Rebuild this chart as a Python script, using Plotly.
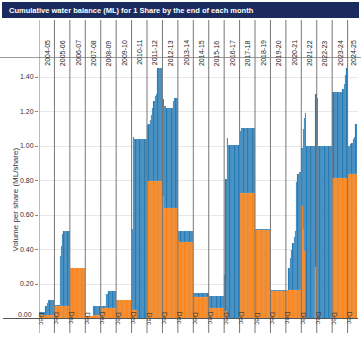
import plotly.graph_objects as go

W, H = 361, 340

years = ["2004-05", "2005-06", "2006-07", "2007-08", "2008-09", "2009-10", "2010-11",
         "2011-12", "2012-13", "2013-14", "2014-15", "2015-16", "2016-17", "2017-18",
         "2018-19", "2019-20", "2020-21", "2021-22", "2022-23", "2023-24", "2024-25"]

# Total balance per share (ML/share), month by month (Jul..Jun) for each water year
total_by_year = [
    [0.04, 0.04, 0.04, 0.04, 0.04, 0.07, 0.09, 0.11, 0.11, 0.11, 0.11, 0.11],
    [0.08, 0.08, 0.08, 0.08, 0.36, 0.42, 0.49, 0.51, 0.51, 0.51, 0.51, 0.51],
    [0.295] * 12,
    [0.015] * 6 + [0.07] * 6,
    [0.07] * 4 + [0.14] * 2 + [0.16] * 6,
    [0.11] * 12,
    [0.52, 1.05] + [1.04] * 10,
    [1.12, 1.13, 1.15, 1.18, 1.22, 1.26, 1.29, 1.30, 1.45, 1.45, 1.45, 1.45],
    [1.27, 1.23, 1.23, 1.22, 1.22, 1.22, 1.22, 1.22, 1.26, 1.28, 1.28, 1.28],
    [0.51] * 12,
    [0.145] * 12,
    [0.13] * 12,
    [0.25, 0.81, 1.045] + [1.005] * 9,
    [1.085] + [1.105] * 11,
    [0.517] * 12,
    [0.163] * 12,
    [0.163, 0.163, 0.29, 0.35, 0.40, 0.44, 0.47, 0.51, 0.79, 0.84, 0.85, 0.85],
    [0.99, 1.10, 1.16, 1.19] + [1.0] * 7 + [1.30],
    [1.28] + [1.0] * 11,
    [1.315] * 8 + [1.33, 1.36, 1.41, 1.45],
    [1.0, 1.0, 1.01, 1.02, 1.04, 1.05, 1.13],
]

# Carry-over part of the balance (ML/share)
carry_by_year = [
    [0.02] * 12,
    [0.07] * 12,
    [0.29] * 12,
    [0.015] * 6 + [0.02] * 6,
    [0.063] * 12,
    [0.108] * 12,
    [0.05] * 4 + [0.0] * 8,
    [0.80] * 12,
    [0.71] + [0.64] * 11,
    [0.455] + [0.445] * 11,
    [0.125] * 12,
    [0.06] * 12,
    [0.045, 0.045] + [0.0] * 10,
    [0.725] * 12,
    [0.515] * 12,
    [0.16] * 12,
    [0.163] * 12,
    [0.65, 0.52, 0.39] + [0.0] * 8 + [0.30],
    [0.0] * 12,
    [0.815] * 12,
    [0.84] * 7,
]

tick_text = "Dec"
y_ticks = [0.2, 0.4, 0.6, 0.8, 1.0, 1.2, 1.4]

month_idx, total, carry = [], [], []
for k, (t, c) in enumerate(zip(total_by_year, carry_by_year)):
    for j in range(len(t)):
        month_idx.append(12 * k + j)
        total.append(t[j])
        carry.append(c[j])

# pixel helpers for layout geometry
X0, X1 = 39.0, 358.0
Y0, Y1 = 318.5, 57.0
PX_PER_MONTH = 15.43 / 12
x_end = -0.5 + (X1 - X0) / PX_PER_MONTH
y_top = (Y0 - Y1) / 172.5


def px(v):
    return v / W


def py(v):
    return 1 - v / H


fig = go.Figure()
fig.add_trace(go.Bar(x=month_idx, y=total,
                     marker=dict(color="#1f77b4", line=dict(color="rgba(255,255,255,0.7)", width=0.15)),
                     name="Total", hoverinfo="skip"))
fig.add_trace(go.Bar(x=month_idx, y=carry,
                     marker=dict(color="#ff7f0e", line=dict(color="rgba(255,255,255,0.7)", width=0.15)),
                     name="Carryover", hoverinfo="skip"))

shapes = []
# title bar
shapes.append(dict(type="rect", xref="paper", yref="paper", x0=px(2), x1=px(359), y0=py(18), y1=py(2),
                   fillcolor="#1c2b5e", line=dict(width=0), layer="above"))
# top separator line and x axis line
shapes.append(dict(type="line", xref="paper", yref="paper", x0=0, x1=1, y0=py(57.5), y1=py(57.5),
                   line=dict(color="#9a9a9a", width=1), layer="above"))
shapes.append(dict(type="line", xref="paper", yref="paper", x0=px(3), x1=px(358), y0=py(318.5), y1=py(318.5),
                   line=dict(color="#555555", width=1), layer="above"))
annotations = []
for k, yr in enumerate(years):
    xd = 12 * k - 0.5
    n_months = len(total_by_year[k])
    x_mid = xd + 6 if n_months == 12 else (xd + x_end) / 2
    shapes.append(dict(type="line", xref="x", yref="paper", x0=xd, x1=xd, y0=py(333), y1=py(20),
                       line=dict(color="#777777", width=1), layer="above"))
    annotations.append(dict(x=x_mid, y=py(38), xref="x", yref="paper", text=yr, showarrow=False,
                            textangle=-90, font=dict(size=7, color="#222222", family="Liberation Sans")))
    annotations.append(dict(x=xd + 1.6, y=py(327), xref="x", yref="paper", text=tick_text, showarrow=False,
                            textangle=90, font=dict(size=7, color="#444444", family="Liberation Sans")))

annotations.append(dict(x=px(7), y=py(10), xref="paper", yref="paper", xanchor="left", yanchor="middle",
                        text="<b>Cumulative water balance (ML) for 1 Share by the end of each month</b>",
                        showarrow=False, font=dict(size=7.5, color="white", family="Liberation Sans")))
annotations.append(dict(x=px(8), y=py(200), xref="paper", yref="paper", text="Volume per share (ML/share)",
                        showarrow=False, textangle=-90, font=dict(size=8, color="#333333", family="Liberation Sans")))
# the zero label sits slightly above the axis line
annotations.append(dict(x=px(34), y=py(314), xref="paper", yref="paper", xanchor="right", yanchor="middle",
                        text="0.00", showarrow=False, font=dict(size=7, color="#333333", family="Liberation Sans")))

fig.update_layout(
    width=W, height=H,
    margin=dict(l=0, r=0, t=0, b=0, autoexpand=False),
    paper_bgcolor="white", plot_bgcolor="white",
    barmode="overlay", bargap=0, showlegend=False,
    shapes=shapes, annotations=annotations,
    xaxis=dict(domain=[px(X0), px(X1)], range=[-0.5, x_end], showticklabels=False, showgrid=False,
               zeroline=False, ticks="", fixedrange=True),
    yaxis=dict(domain=[py(Y0), py(Y1)], range=[0, y_top], tickvals=y_ticks,
               tickformat=".2f", showgrid=True, gridcolor="#e8e8e8", zeroline=False, ticks="outside",
               ticklen=3, tickcolor="#888888", tickfont=dict(size=7, color="#333333", family="Liberation Sans"),
               showline=False, fixedrange=True),
    font=dict(family="Liberation Sans"),
)

fig.write_html("out.html")
